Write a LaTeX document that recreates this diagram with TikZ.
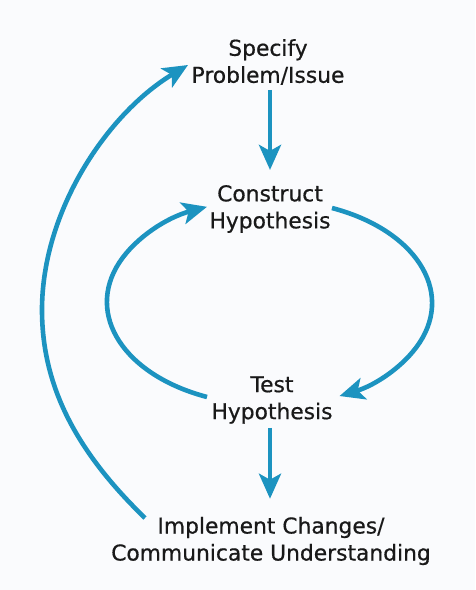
\documentclass[tikz,border=0pt]{standalone}
\usepackage{fontspec}
\setmainfont[FakeBold=0.6]{DejaVu Sans}
\usetikzlibrary{arrows.meta}
\definecolor{cycleblue}{HTML}{1C93C0}
\definecolor{paper}{HTML}{FAFBFD}
\tikzset{
  label text/.style={align=center, inner sep=0pt, text=black!90,
    font=\fontsize{21.8pt}{27pt}\selectfont},
  flow/.style={draw=cycleblue, line width=4.6pt,
    -{Stealth[length=25pt, width=22pt, inset=6pt]}},
}
\begin{document}
\begin{tikzpicture}[x=1pt, y=1pt]
  \fill[paper] (0,0) rectangle (475,590);
  \useasboundingbox (0,0) rectangle (475,590);

  % stage labels
  \node[label text] (specify)   at (268,528) {Specify\\Problem/Issue};
  \node[label text] (construct) at (270,381) {Construct\\Hypothesis};
  \node[label text] (test)      at (272,190) {Test\\Hypothesis};
  \node[label text] (implement) at (271,49)  {Implement Changes/\\Communicate Understanding};

  % ends of the curved connectors
  \coordinate (loopL) at (207,193);
  \coordinate (loopR) at (332,382);
  \coordinate (back)  at (145,72);

  % straight steps
  \draw[flow, shorten <=5pt, shorten >=15pt] (specify.south -| 270,0) -- (construct.north -| 270,0);
  \draw[flow, shorten <=4pt, shorten >=18pt] (test.south -| 270,0) -- (implement.north -| 270,0);

  % hypothesis loop
  \draw[flow] (loopL) arc[start angle=247.4, end angle=112.6, x radius=162.5, y radius=103];
  \draw[flow] (loopR) arc[start angle=67.4, end angle=-64.5, x radius=162.5, y radius=103];

  % feedback to the problem statement
  \draw[flow] (back) .. controls (80,135) and (42,200) .. (42,280)
                     .. controls (42,380) and (108,477) .. (188,525);
\end{tikzpicture}
\end{document}
